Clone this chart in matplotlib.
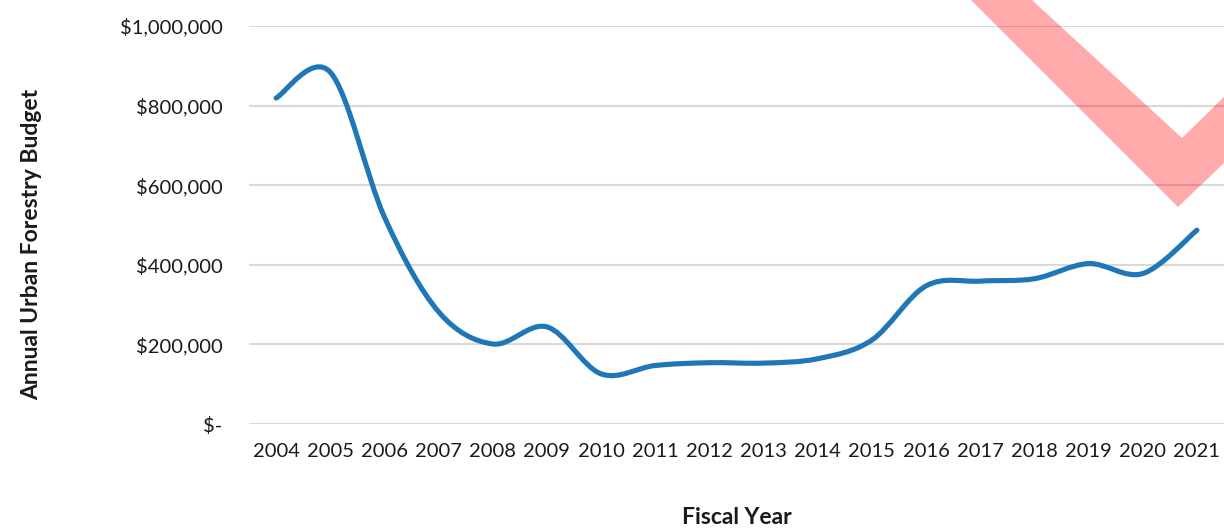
import numpy as np
import matplotlib.pyplot as plt
from matplotlib.path import Path
from matplotlib.patches import PathPatch, Polygon
from matplotlib.ticker import FuncFormatter

years = ['2004', '2005', '2006', '2007', '2008', '2009', '2010', '2011', '2012',
         '2013', '2014', '2015', '2016', '2017', '2018', '2019', '2020', '2021']
budget = [819000, 884000, 520000, 282000, 201000, 244000, 126000, 147000, 154000,
          153000, 164000, 211000, 347000, 359000, 365000, 403000, 378000, 487000]
y_ticks = [0, 200000, 400000, 600000, 800000, 1000000]

plt.rcParams['font.family'] = ['Lato', 'DejaVu Sans']


def smooth_path(xs, ys):
    # cubic bezier through every point, excel-style (catmull-rom, 1/6 tangents)
    pts = np.column_stack([xs, ys]).astype(float)
    padded = np.vstack([pts[0], pts, pts[-1]])
    verts = [pts[0]]
    codes = [Path.MOVETO]
    for i in range(len(pts) - 1):
        p0, p1, p2, p3 = padded[i], padded[i + 1], padded[i + 2], padded[i + 3]
        c1 = p1 + (p2 - p0) / 6.0
        c2 = p2 - (p3 - p1) / 6.0
        verts += [c1, c2, p2]
        codes += [Path.CURVE4] * 3
    return Path(verts, codes)


W, H = 1224, 529
fig = plt.figure(figsize=(W / 100, H / 100), dpi=100)
ax = fig.add_axes([249 / W, 105 / H, 975 / W, 398 / H])

x = np.arange(len(years))
ax.add_patch(PathPatch(smooth_path(x, budget), fill=False, edgecolor='#1f77b8',
                       lw=3.7, capstyle='round', joinstyle='round', zorder=3))

ax.set_xlim(-0.5, len(years) - 0.5)
ax.set_ylim(0, 1000000)
ax.set_yticks(y_ticks)
ax.yaxis.set_major_formatter(FuncFormatter(lambda v, p: '$-' if v == 0 else f'${v:,.0f}'))
ax.set_xticks(x)
ax.set_xticklabels(years)

ax.grid(axis='y', color='#d9d9d9', lw=1.5)
ax.set_axisbelow(True)
for s in ax.spines.values():
    s.set_visible(False)
ax.tick_params(axis='both', length=0, labelsize=14.5, colors='#1a1a1a')
ax.tick_params(axis='y', pad=19)
ax.tick_params(axis='x', pad=13.5)

ax.set_ylabel('Annual Urban Forestry Budget', fontsize=16.5, fontweight='bold', color='#1a1a1a')
ax.yaxis.set_label_coords((32 - 249) / 975, (424 - 244) / 398)
ax.yaxis.label.set_va('center')
ax.set_xlabel('Fiscal Year', fontsize=16.5, fontweight='bold', color='#1a1a1a')
ax.xaxis.set_label_coords(0.5, (424 - 518) / 398)
ax.xaxis.label.set_va('center')

# big pink check mark over the top-right corner (outline in pixels, y down)
check = np.array([[971, 0], [1178, 207], [1224, 163], [1224, 97], [1182, 138], [1032, 0]], float)
check[:, 0] /= W
check[:, 1] = 1 - check[:, 1] / H
fig.add_artist(Polygon(check, closed=True, transform=fig.transFigure,
                       facecolor='red', edgecolor='none', alpha=0.33, zorder=5))

fig.savefig('out.png', dpi=100)
